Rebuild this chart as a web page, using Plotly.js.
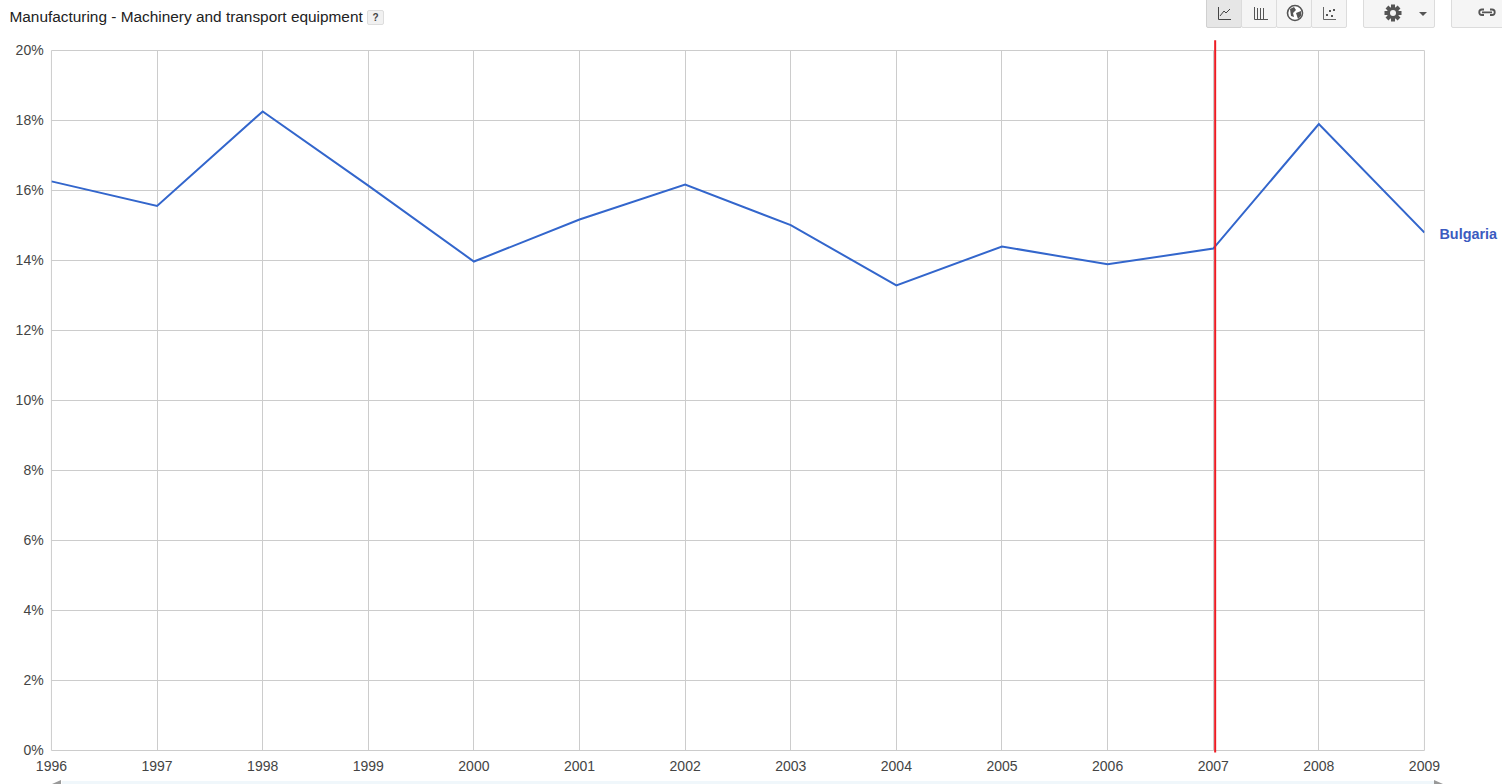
<!DOCTYPE html>
<html>
<head>
<meta charset="utf-8">
<script src="https://cdn.plot.ly/plotly-3.0.1.min.js"></script>
<style>
html,body{margin:0;padding:0;background:#fff;overflow:hidden;width:1502px;height:784px}
#chart{position:absolute;left:0;top:0;width:1502px;height:784px;transform:translate(0.45px,0.5px)}
.btn{position:absolute;top:-2px;height:30px;box-sizing:border-box;background:#f5f5f5;border:1px solid #dcdcdc;border-radius:0 0 2px 2px}
.help{position:absolute;left:367px;top:10px;width:17px;height:15px;box-sizing:border-box;background:#f1f1f1;border:1px solid #ddd;border-radius:2px;font:bold 10px "Liberation Sans";color:#444;text-align:center;line-height:13px}
.strip{position:absolute;left:62px;top:781px;width:1372px;height:3px;background:#f0f7fb}
</style>
</head>
<body>
<div id="chart"></div>
<div class="help">?</div>
<div class="strip"></div>
<div class="btn" style="left:1206px;width:36px;background:#e6e6e6;border-color:#d0d0d0"></div>
<div class="btn" style="left:1241px;width:36px"></div>
<div class="btn" style="left:1276px;width:36px"></div>
<div class="btn" style="left:1311px;width:36px"></div>
<div class="btn" style="left:1363px;width:72px"></div>
<div class="btn" style="left:1451px;width:60px"></div>
<svg style="position:absolute;left:0;top:0" width="1502" height="784">
  <path d="M52 784 L61 780 L61 784 Z" fill="#999"/>
  <path d="M1434 780 L1443 784 L1434 784 Z" fill="#999"/>
  <path d="M1218.5 7V19.5H1231" fill="none" stroke="#444"/>
  <path d="M1220 16L1224 11L1226 13L1230 9" fill="none" stroke="#444"/>
  <path d="M1254.5 7V19.5H1268M1257.5 8V19M1260.5 8V19M1263.5 8V19" fill="none" stroke="#555"/>
  <circle cx="1295" cy="13" r="7.5" fill="#fff" stroke="#555" stroke-width="1.6"/>
  <path d="M1290 9L1294 7L1296 10L1293 13L1294 17L1291 16ZM1296 13L1301 11L1301 16L1298 19Z" fill="#555"/>
  <path d="M1323.5 7V19.5H1336" fill="none" stroke="#666"/>
  <rect x="1326" y="14" width="2" height="2" fill="#555"/>
  <rect x="1329" y="10" width="2" height="2" fill="#555"/>
  <rect x="1333" y="9" width="2" height="2" fill="#555"/>
  <rect x="1331" y="15" width="2" height="2" fill="#555"/>
  <g transform="translate(1393 13)" fill="#555"><circle r="6"/><rect x="-2" y="-8.5" width="4" height="17"/><rect x="-8.5" y="-2" width="17" height="4"/><rect x="-2" y="-8.5" width="4" height="17" transform="rotate(45)"/><rect x="-2" y="-8.5" width="4" height="17" transform="rotate(-45)"/><circle r="3" fill="#f5f5f5"/></g>
  <path d="M1419 12H1427L1423 16Z" fill="#555"/>
  <path d="M1484 9.5H1482A2.5 2.5 0 0 0 1482 15H1484M1490 9.5H1492A2.5 2.5 0 0 1 1492 15H1490M1482 12.3H1492" fill="none" stroke="#555" stroke-width="1.8"/>
</svg>
<script>
var years = [1996,1997,1998,1999,2000,2001,2002,2003,2004,2005,2006,2007,2008,2009];
var bulgaria = [16.26,15.56,18.26,16.14,13.97,15.17,16.17,15.01,13.29,14.40,13.89,14.34,17.90,14.80];
var seriesName = 'Bulgaria';
var chartTitle = 'Manufacturing - Machinery and transport equipment';
var markerYear = 2007.0185;

var tickFont = {family:'"Liberation Sans", Arial, sans-serif', size:14, color:'#444'};
var hidden = 'rgba(0,0,0,0)';
Plotly.newPlot('chart', [{
  x: years, y: bulgaria, name: seriesName, type:'scatter', mode:'lines',
  line:{color:'#3366cc', width:2}, hoverinfo:'x+y', cliponaxis:false
}], {
  width:1502, height:784, showlegend:false,
  paper_bgcolor:'rgba(0,0,0,0)', plot_bgcolor:'rgba(0,0,0,0)',
  margin:{l:51,r:78,t:50,b:34,pad:0},
  title:{text:chartTitle, x:9/1502, xanchor:'left', y:1-16/784, yanchor:'middle',
         font:{family:'"Liberation Sans", Arial, sans-serif', size:15.4, color:'#222'}},
  xaxis:{range:[1996,2009], tickmode:'linear', tick0:1996, dtick:1, tickformat:'d',
         showgrid:true, gridcolor:'#ccc', gridwidth:1, zeroline:false, showline:false,
         ticks:'outside', ticklen:3, tickcolor:hidden, tickfont:tickFont},
  yaxis:{range:[0,20], tickmode:'linear', tick0:0, dtick:2, ticksuffix:'%',
         showgrid:true, gridcolor:'#ccc', gridwidth:1, zeroline:false, showline:false,
         ticks:'outside', ticklen:4, tickcolor:hidden, tickfont:tickFont},
  shapes:[
    {type:'rect', xref:'paper', yref:'paper', x0:0, x1:1, y0:0, y1:1, layer:'below',
     line:{color:'#ccc', width:1}, fillcolor:'rgba(0,0,0,0)'},
    {type:'line', xref:'x', yref:'paper', x0:markerYear, x1:markerYear, y0:-0.003, y1:1.0145,
     line:{color:'#ed1c24', width:2}}],
  annotations:[{x:years[years.length-1], y:bulgaria[bulgaria.length-1], xref:'x', yref:'y',
     text:'<b>'+seriesName+'</b>', showarrow:false, xanchor:'left', yanchor:'middle', xshift:13, yshift:-0.5,
     font:{family:'"Liberation Sans", Arial, sans-serif', size:14.4, color:'#3b5bc0'}}]
}, {displayModeBar:false, responsive:false});
</script>
</body>
</html>
